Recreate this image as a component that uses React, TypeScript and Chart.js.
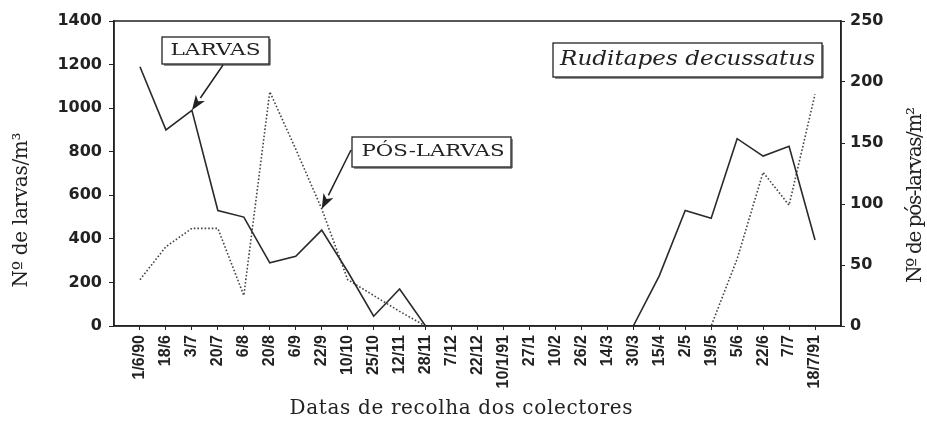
import React, { useEffect, useRef } from 'react';
import { Chart, registerables } from 'chart.js';

Chart.register(...registerables);

// ---- data ----
const dateLabels: string[] = [
  '1/6/90', '18/6', '3/7', '20/7', '6/8', '20/8', '6/9', '22/9', '10/10', '25/10',
  '12/11', '28/11', '7/12', '22/12', '10/1/91', '27/1', '10/2', '26/2', '14/3', '30/3',
  '15/4', '2/5', '19/5', '5/6', '22/6', '7/7', '18/7/91',
];
// Nº de larvas/m³ (left axis, solid)
const larvae: number[] = [
  1190, 900, 990, 530, 500, 290, 320, 440, 250, 45,
  170, 0, 0, 0, 0, 0, 0, 0, 0, 0,
  230, 530, 495, 860, 780, 825, 395,
];
// Nº de pós-larvas/m² (right axis, dotted)
const postLarvae: number[] = [
  38, 65, 80, 80, 25, 192, 145, 96, 38, 25,
  12, 0, 0, 0, 0, 0, 0, 0, 0, 0,
  0, 0, 0, 55, 126, 99, 190,
];
const leftMax = 1400;
const leftStep = 200;
const rightMax = 250;
const rightStep = 50;

const xTitle = 'Datas de recolha dos colectores';
const yLeftTitle = 'Nº de larvas/m³';
const yRightTitle = 'Nº de pós-larvas/m²';
const speciesLabel = 'Ruditapes decussatus';
const larvaeLabel = 'LARVAS';
const postLabel = 'PÓS-LARVAS';

const INK = '#222';

// draws text centred on (cx, cy) spanning `width`; mode 'space' adjusts letter spacing,
// mode 'scale' stretches the glyphs horizontally
function fitText(ctx: any, text: string, cx: number, cy: number, width: number, font: string, rot = 0, mode = 'space') {
  ctx.save();
  ctx.font = font;
  ctx.letterSpacing = '0px';
  const w = ctx.measureText(text).width;
  const n = Array.from(text).length;
  ctx.translate(cx, cy);
  ctx.rotate(rot);
  ctx.textAlign = 'left';
  ctx.textBaseline = 'middle';
  ctx.fillStyle = INK;
  if (mode === 'scale') {
    ctx.scale(width / w, 1);
    ctx.fillText(text, -w / 2, 0);
  } else {
    const sp = n > 1 ? (width - w) / (n - 1) : 0;
    ctx.letterSpacing = sp.toFixed(2) + 'px';
    ctx.fillText(text, -width / 2, 0);
  }
  ctx.restore();
}

function box(ctx: any, x: number, y: number, w: number, h: number) {
  ctx.save();
  ctx.fillStyle = '#fff';
  ctx.fillRect(x, y, w, h);
  ctx.strokeStyle = INK;
  ctx.lineWidth = 1.3;
  ctx.strokeRect(x, y, w, h);
  ctx.lineWidth = 1;
  ctx.beginPath();
  ctx.moveTo(x + 2, y + h + 1);
  ctx.lineTo(x + w + 1, y + h + 1);
  ctx.lineTo(x + w + 1, y + 2);
  ctx.stroke();
  ctx.restore();
}

function arrow(ctx: any, x0: number, y0: number, x1: number, y1: number) {
  const ang = Math.atan2(y1 - y0, x1 - x0);
  const L = 15;
  const hw = 5.5;
  const bx = x1 - L * Math.cos(ang);
  const by = y1 - L * Math.sin(ang);
  ctx.save();
  ctx.strokeStyle = INK;
  ctx.fillStyle = INK;
  ctx.lineWidth = 1.5;
  ctx.beginPath();
  ctx.moveTo(x0, y0);
  ctx.lineTo(bx, by);
  ctx.stroke();
  ctx.beginPath();
  ctx.moveTo(x1, y1);
  ctx.lineTo(bx + hw * Math.sin(ang), by - hw * Math.cos(ang));
  ctx.lineTo(x1 - (L - 4) * Math.cos(ang), y1 - (L - 4) * Math.sin(ang));
  ctx.lineTo(bx - hw * Math.sin(ang), by + hw * Math.cos(ang));
  ctx.closePath();
  ctx.fill();
  ctx.restore();
}

const decor = {
  id: 'decor',
  afterDraw(chart: any) {
    const { ctx, chartArea: a, scales } = chart;
    ctx.save();
    ctx.strokeStyle = INK;
    ctx.lineWidth = 1.5;
    ctx.strokeRect(a.left, a.top, a.right - a.left, a.bottom - a.top);
    ctx.restore();

    // axis titles
    fitText(ctx, xTitle, 461, 409, 343, '20px "DejaVu Serif"');
    fitText(ctx, yLeftTitle, 22, 210, 155, '20px "DejaVu Serif"', -Math.PI / 2);
    fitText(ctx, yRightTitle, 916, 195, 176, '20px "DejaVu Serif"', -Math.PI / 2);

    // annotation boxes
    box(ctx, 162, 37, 107, 27);
    fitText(ctx, larvaeLabel, 215.5, 51, 90, '16px "DejaVu Serif"', 0, 'scale');
    box(ctx, 352, 137, 159, 30);
    fitText(ctx, postLabel, 433, 152, 143, '16px "DejaVu Serif"', 0, 'scale');
    box(ctx, 553, 43, 269, 34);
    fitText(ctx, speciesLabel, 687.5, 60, 255, 'italic 20px "DejaVu Serif"', 0, 'scale');

    // arrows pointing at data points
    const xs = scales.x;
    arrow(ctx, 223, 65, xs.getPixelForValue(2), scales.y.getPixelForValue(larvae[2]));
    arrow(ctx, 351, 150, xs.getPixelForValue(7), scales.y1.getPixelForValue(postLarvae[7]));
  },
};

export default function App() {
  const ref = useRef<HTMLCanvasElement | null>(null);
  useEffect(() => {
    document.body.style.margin = '0';
    const canvas = ref.current;
    if (!canvas) return;
    const chart = new Chart(canvas, {
      type: 'line',
      data: {
        datasets: [
          {
            label: 'Larvas',
            data: larvae.map((v, i) => ({ x: i, y: v })),
            yAxisID: 'y',
            borderColor: '#2a2a2a',
            borderWidth: 1.6,
            pointRadius: 0,
            fill: false,
            tension: 0,
          },
          {
            label: 'Pós-larvas',
            data: postLarvae.map((v, i) => ({ x: i, y: v })),
            yAxisID: 'y1',
            borderColor: '#444',
            borderWidth: 1.6,
            borderDash: [1.6, 2],
            pointRadius: 0,
            fill: false,
            tension: 0,
          },
        ],
      },
      options: {
        responsive: false,
        animation: false,
        events: [],
        layout: { padding: { top: 21, left: 0, right: 0, bottom: 0 } },
        plugins: { legend: { display: false }, tooltip: { enabled: false } },
        scales: {
          x: {
            type: 'linear',
            position: 'bottom',
            min: -1,
            max: dateLabels.length,
            afterBuildTicks: (s: any) => {
              s.ticks = dateLabels.map((_, i) => ({ value: i }));
            },
            afterFit: (s: any) => {
              s.height = 102;
            },
            ticks: {
              autoSkip: false,
              maxRotation: 90,
              minRotation: 90,
              padding: 5,
              color: INK,
              font: { family: 'Arial', size: 16, weight: 'bold' },
              callback: (v: any) => dateLabels[v] ?? '',
            },
            grid: { display: true, drawOnChartArea: false, tickLength: 4, color: INK },
            border: { display: true, color: INK, width: 1.5 },
          },
          y: {
            type: 'linear',
            position: 'left',
            min: 0,
            max: leftMax,
            afterFit: (s: any) => {
              s.width = 114;
            },
            ticks: {
              stepSize: leftStep,
              padding: 7,
              color: INK,
              font: { family: 'DejaVu Sans', size: 16, weight: 'bold' },
              callback: (v: any) => String(v),
            },
            grid: { display: true, drawOnChartArea: false, tickLength: 5, color: INK },
            border: { display: true, color: INK, width: 1.5 },
          },
          y1: {
            type: 'linear',
            position: 'right',
            min: 0,
            max: rightMax,
            afterFit: (s: any) => {
              s.width = 86;
            },
            ticks: {
              stepSize: rightStep,
              padding: 5,
              color: INK,
              font: { family: 'DejaVu Sans', size: 16, weight: 'bold' },
              callback: (v: any) => String(v),
            },
            grid: { display: true, drawOnChartArea: false, tickLength: 4, color: INK },
            border: { display: true, color: INK, width: 1.5 },
          },
        },
      },
      plugins: [decor],
    });
    return () => chart.destroy();
  }, []);
  return <canvas ref={ref} width={927} height={428} style={{ display: 'block' }} />;
}
